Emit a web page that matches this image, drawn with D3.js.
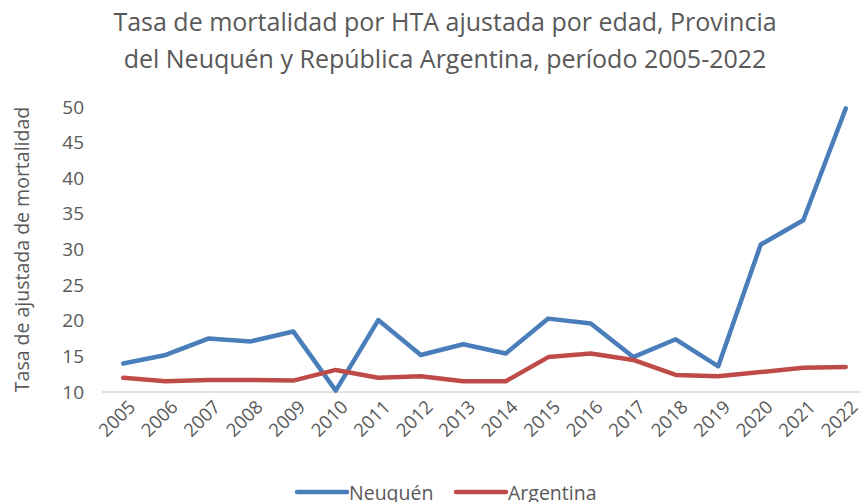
<!DOCTYPE html>
<html lang="es">
<head>
<meta charset="UTF-8">
<title>Tasa de mortalidad por HTA</title>
<script src="https://d3js.org/d3.v7.min.js"></script>
<style>
    body { margin: 0; padding: 0; background: #fff; }
    svg { display: block; font-family: 'Open Sans', sans-serif; }
    .title { font-size: 25px; fill: #595959; text-anchor: middle; }
    .axis-label { font-size: 19.5px; fill: #595959; text-anchor: middle; }
    .tick text { fill: #595959; }
    .legend-text { font-size: 19.5px; fill: #595959; }
</style>
</head>
<body>
<svg width="861" height="502"></svg>
<script>
const years = ["2005","2006","2007","2008","2009","2010","2011","2012","2013","2014",
               "2015","2016","2017","2018","2019","2020","2021","2022"];
const neuquen = [14.0, 15.2, 17.5, 17.1, 18.5, 10.2, 20.1, 15.2, 16.7, 15.4,
                 20.3, 19.6, 14.9, 17.4, 13.6, 30.7, 34.1, 49.8];
const argentina = [12.0, 11.5, 11.7, 11.7, 11.6, 13.1, 12.0, 12.2, 11.5, 11.5,
                   14.9, 15.4, 14.5, 12.4, 12.2, 12.8, 13.4, 13.5];
const yTicks = [10, 15, 20, 25, 30, 35, 40, 45, 50];
const seriesNames = ["Neuquén", "Argentina"];
const colors = ["#4a7ebb", "#be4b48"];

const svg = d3.select("svg");
const plotLeft = 102, plotRight = 867, plotTop = 107, plotBottom = 392;

const x = d3.scaleBand().domain(years).range([plotLeft, plotRight]);
const y = d3.scaleLinear().domain([10, 50]).range([plotBottom, plotTop]);

// title
svg.append("text").attr("class", "title").attr("x", 445).attr("y", 31)
    .text("Tasa de mortalidad por HTA ajustada por edad, Provincia");
svg.append("text").attr("class", "title").attr("x", 445).attr("y", 68)
    .text("del Neuquén y República Argentina, período 2005-2022");

// y axis label
svg.append("text").attr("class", "axis-label")
    .attr("transform", "translate(29," + ((plotTop + plotBottom) / 2) + ") rotate(-90)")
    .text("Tasa de ajustada de mortalidad");

// y axis (labels only)
const yAxis = svg.append("g")
    .attr("transform", "translate(" + (plotLeft - 18) + ",0)")
    .call(d3.axisLeft(y).tickValues(yTicks).tickSize(0).tickPadding(0));
yAxis.select(".domain").remove();
yAxis.selectAll("text").style("font-size", "19px")
    .style("font-family", "'Open Sans', sans-serif");

// baseline
svg.append("line")
    .attr("x1", plotLeft).attr("x2", plotRight)
    .attr("y1", y(10)).attr("y2", y(10))
    .attr("stroke", "#d9d9d9").attr("stroke-width", 1.5);

// x axis labels
const xAxis = svg.append("g")
    .attr("transform", "translate(0," + (plotBottom + 7) + ")")
    .call(d3.axisBottom(x).tickSize(0).tickPadding(0));
xAxis.select(".domain").remove();
xAxis.selectAll("text")
    .style("font-size", "18.5px")
    .style("font-family", "'Open Sans', sans-serif")
    .attr("text-anchor", "end")
    .attr("dy", "0.7em")
    .attr("transform", "translate(4,0) rotate(-45)");

// lines
const line = d3.line()
    .x((d, i) => x(years[i]) + x.bandwidth() / 2)
    .y(d => y(d));

[neuquen, argentina].forEach((s, i) => {
    svg.append("path")
        .datum(s)
        .attr("fill", "none")
        .attr("stroke", colors[i])
        .attr("stroke-width", 4.5)
        .attr("stroke-linejoin", "round")
        .attr("stroke-linecap", "round")
        .attr("d", line);
});

// legend
const legendX = [297, 456];
seriesNames.forEach((name, i) => {
    svg.append("line")
        .attr("x1", legendX[i]).attr("x2", legendX[i] + 50)
        .attr("y1", 492).attr("y2", 492)
        .attr("stroke", colors[i]).attr("stroke-width", 4.5)
        .attr("stroke-linecap", "round");
    svg.append("text").attr("class", "legend-text")
        .attr("x", legendX[i] + 52).attr("y", 500)
        .text(name);
});
</script>
</body>
</html>
